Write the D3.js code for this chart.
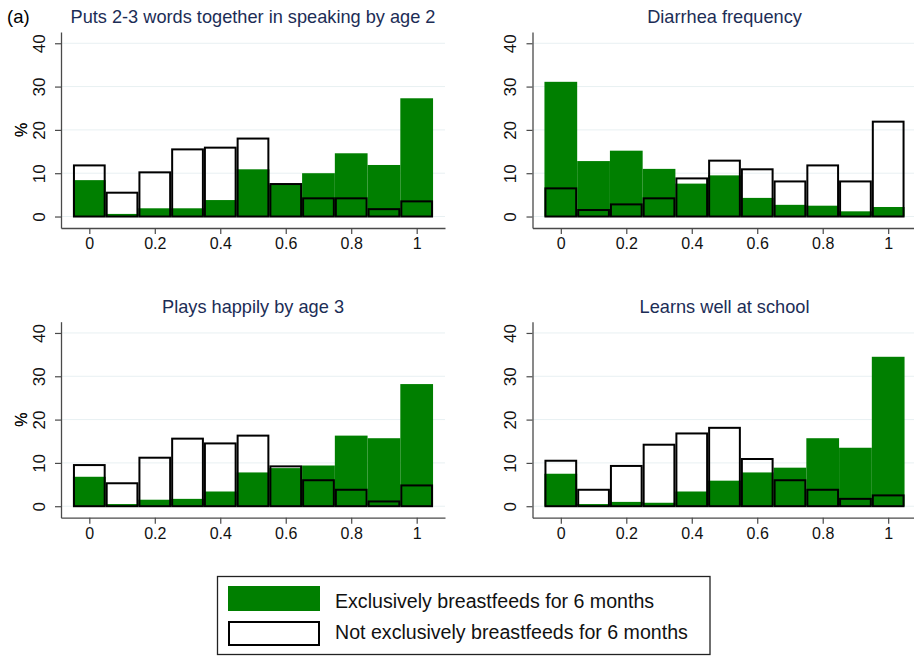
<!DOCTYPE html>
<html>
<head>
<meta charset="utf-8">
<script src="https://cdn.jsdelivr.net/npm/d3@7"></script>
<style>
  html, body { margin: 0; padding: 0; background: #fff; }
  svg { display: block; font-family: "Liberation Sans", Arial, sans-serif; }
</style>
</head>
<body>
<svg id="chart" width="914" height="656"></svg>
<script>
// Histogram bins (centres, width 0.1)
const bins = [0, 0.1, 0.2, 0.3, 0.4, 0.5, 0.6, 0.7, 0.8, 0.9, 1.0];
const xTickValues = [0, 0.2, 0.4, 0.6, 0.8, 1];
const xTickLabels = ["0", "0.2", "0.4", "0.6", "0.8", "1"];
const yTickValues = [0, 10, 20, 30, 40];

const panelTitles = [
  "Puts 2-3 words together in speaking by age 2",
  "Diarrhea frequency",
  "Plays happily by age 3",
  "Learns well at school"
];

// Percent of children per bin: exclusively breastfed for 6 months
const exclusiveWords    = [8.4, 0.6, 1.9, 1.9, 3.8, 10.9, 7.4, 10.0, 14.6, 11.9, 27.3];
const exclusiveDiarrhea = [31.1, 12.8, 15.2, 11.0, 7.6, 9.5, 4.3, 2.7, 2.5, 1.2, 2.2];
const exclusivePlays    = [6.8, 0.5, 1.5, 1.7, 3.4, 7.8, 8.8, 9.4, 16.3, 15.7, 28.2];
const exclusiveLearns   = [7.5, 0.5, 1.0, 0.8, 3.4, 5.9, 7.8, 8.9, 15.7, 13.5, 34.5];

// Percent of children per bin: not exclusively breastfed for 6 months
const notExclusiveWords    = [11.8, 5.5, 10.2, 15.5, 15.9, 18.0, 7.5, 4.2, 4.2, 1.7, 3.5];
const notExclusiveDiarrhea = [6.5, 1.5, 2.8, 4.2, 8.8, 12.9, 10.9, 8.1, 11.8, 8.1, 21.9];
const notExclusivePlays    = [9.5, 5.3, 11.2, 15.6, 14.5, 16.3, 9.2, 6.0, 3.8, 1.1, 4.8];
const notExclusiveLearns   = [10.5, 3.8, 9.3, 14.2, 16.8, 18.1, 10.9, 6.0, 3.8, 1.7, 2.5];

const legendLabels = [
  "Exclusively breastfeeds for 6 months",
  "Not exclusively breastfeeds for 6 months"
];

const GREEN = "#007f00";
const TITLE_COLOR = "#1c2d56";
const AXIS_COLOR = "#4a4a4a";
const GRID_COLOR = "#e8f0f2";

const svg = d3.select("#chart");

const panels = [
  { title: panelTitles[0], green: exclusiveWords,    outline: notExclusiveWords,    left: 61,    top: 32 },
  { title: panelTitles[1], green: exclusiveDiarrhea, outline: notExclusiveDiarrhea, left: 532.5, top: 32 },
  { title: panelTitles[2], green: exclusivePlays,    outline: notExclusivePlays,    left: 61,    top: 321.7 },
  { title: panelTitles[3], green: exclusiveLearns,   outline: notExclusiveLearns,   left: 532.5, top: 321.7 }
];

const plotW = 384, plotH = 196;

panels.forEach(p => {
  const g = svg.append("g");
  const x = d3.scaleLinear().domain([-0.0865, 1.0865]).range([p.left, p.left + plotW]);
  const y = d3.scaleLinear().domain([-2.65, 42.6]).range([p.top + plotH, p.top]);

  // gridlines
  g.append("g").selectAll("line").data(yTickValues).join("line")
    .attr("x1", p.left).attr("x2", p.left + plotW)
    .attr("y1", d => y(d)).attr("y2", d => y(d))
    .attr("stroke", GRID_COLOR).attr("stroke-width", 1);

  // filled bars
  g.append("g").selectAll("rect").data(bins.map((b, i) => ({ b, v: p.green[i] }))).join("rect")
    .attr("x", d => x(d.b - 0.05)).attr("width", d => x(d.b + 0.05) - x(d.b - 0.05))
    .attr("y", d => y(d.v)).attr("height", d => y(0) - y(d.v))
    .attr("fill", GREEN);

  // outlined bars
  g.append("g").selectAll("rect").data(bins.map((b, i) => ({ b, v: p.outline[i] }))).join("rect")
    .attr("x", d => x(d.b - 0.05) + 1).attr("width", d => x(d.b + 0.05) - x(d.b - 0.05) - 2)
    .attr("y", d => y(d.v)).attr("height", d => y(0) - y(d.v))
    .attr("fill", "none").attr("stroke", "#000").attr("stroke-width", 2);

  // y axis
  const ya = g.append("g").attr("transform", `translate(${p.left},0)`)
    .call(d3.axisLeft(y).tickValues(yTickValues).tickSize(6).tickSizeOuter(0).tickPadding(0));
  ya.select(".domain").attr("stroke", AXIS_COLOR).attr("stroke-width", 1.3);
  ya.selectAll(".tick line").attr("stroke", AXIS_COLOR).attr("stroke-width", 1.2);
  ya.selectAll(".tick text")
    .attr("x", 0).attr("dy", null)
    .attr("transform", "translate(-16.5,0) rotate(-90)")
    .attr("text-anchor", "middle").attr("dominant-baseline", "auto")
    .attr("y", 0)
    .style("font-size", "17px").attr("fill", "#111")
    .attr("font-family", "Liberation Sans, Arial, sans-serif");

  // x axis
  const xa = g.append("g").attr("transform", `translate(0,${p.top + plotH})`)
    .call(d3.axisBottom(x).tickValues(xTickValues).tickSize(6).tickSizeOuter(0).tickPadding(4)
      .tickFormat((d, i) => xTickLabels[i]));
  xa.select(".domain").attr("stroke", AXIS_COLOR).attr("stroke-width", 1.3);
  xa.selectAll(".tick line").attr("stroke", AXIS_COLOR).attr("stroke-width", 1.2);
  xa.selectAll(".tick text").style("font-size", "16px").attr("fill", "#111")
    .attr("font-family", "Liberation Sans, Arial, sans-serif");

  // y axis title
  g.append("text")
    .attr("transform", `translate(27,${p.top + plotH / 2}) rotate(-90)`)
    .attr("text-anchor", "middle")
    .style("font-size", "16px").attr("fill", "#111")
    .text("%");

  // panel title
  g.append("text")
    .attr("x", p.left + plotW / 2).attr("y", p.top - 9)
    .attr("text-anchor", "middle")
    .style("font-size", "18.2px").attr("fill", TITLE_COLOR)
    .text(p.title);
});

// figure label
svg.append("text").attr("x", 7).attr("y", 23)
  .style("font-size", "18.5px").attr("fill", "#000").text("(a)");

// legend
const lg = svg.append("g");
lg.append("rect").attr("x", 217.5).attr("y", 576.5).attr("width", 492.5).attr("height", 78)
  .attr("fill", "#fff").attr("stroke", "#222").attr("stroke-width", 1.3);
const legendItems = [
  { label: legendLabels[0], fill: GREEN, stroke: "none", y: 586, base: 607.5 },
  { label: legendLabels[1], fill: "none", stroke: "#000", y: 621, base: 638.5 }
];
legendItems.forEach(it => {
  lg.append("rect").attr("x", it.stroke === "none" ? 228 : 229).attr("y", it.stroke === "none" ? it.y : it.y + 1)
    .attr("width", it.stroke === "none" ? 92 : 90).attr("height", it.stroke === "none" ? 25 : 23)
    .attr("fill", it.fill).attr("stroke", it.stroke).attr("stroke-width", 2);
  lg.append("text").attr("x", 335).attr("y", it.base)
    .style("font-size", "19.6px").attr("fill", "#111").text(it.label);
});
</script>
</body>
</html>
